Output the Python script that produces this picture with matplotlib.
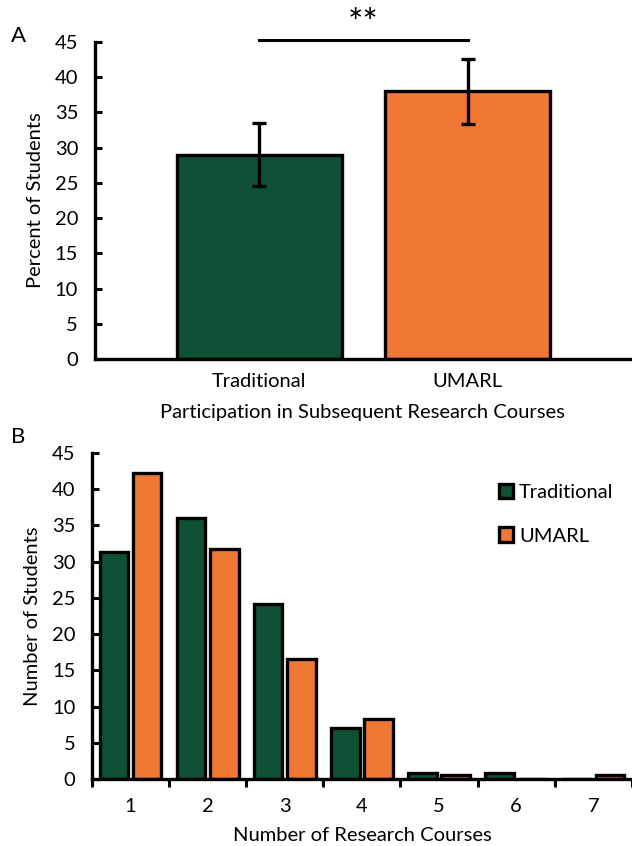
import matplotlib
matplotlib.use("Agg")
import matplotlib.pyplot as plt
import numpy as np

plt.rcParams['font.family'] = ['Lato', 'DejaVu Sans']

# Panel A data
groups = ["Traditional", "UMARL"]
percent = [29.0, 38.0]
percent_err = [4.5, 4.6]

# Panel B data
courses = ["1", "2", "3", "4", "5", "6", "7"]
trad_counts = [31.3, 36.0, 24.2, 7.1, 0.8, 0.8, 0.0]
umarl_counts = [42.3, 31.7, 16.5, 8.3, 0.5, 0.0, 0.5]

green = "#0E5033"
orange = "#F07734"
fs = 14.5

fig = plt.figure(figsize=(6.32, 8.46), dpi=100)

# ---- Panel A ----
axA = fig.add_axes([0.150, 0.5757, 0.847, 0.3747])
xa = np.arange(len(groups))
axA.bar(xa, percent, width=0.79, color=[green, orange], edgecolor="black", linewidth=2.4, zorder=2)
axA.errorbar(xa, percent, yerr=percent_err, fmt="none", ecolor="black", elinewidth=2.4,
             capsize=5, capthick=2.4, zorder=3)
axA.set_xlim(-0.79, 1.78)
axA.set_ylim(0, 45)
axA.set_yticks(np.arange(0, 46, 5))
axA.set_xticks(xa)
axA.set_xticklabels(groups, fontsize=fs)
axA.tick_params(axis="y", direction="in", length=5, width=2.2, labelsize=fs, pad=12)
axA.tick_params(axis="x", length=0, pad=10)
for s in ["top", "right"]:
    axA.spines[s].set_visible(False)
for s in ["left", "bottom"]:
    axA.spines[s].set_linewidth(2.4)
axA.set_ylabel("Percent of Students", fontsize=fs, labelpad=8)
axA.set_xlabel("Participation in Subsequent Research Courses", fontsize=fs, labelpad=10)
axA.plot([0, 1], [45.3, 45.3], color="black", lw=2.2, clip_on=False)
axA.text(0.5, 45.2, "**", ha="center", va="bottom", fontsize=26, clip_on=False)
fig.text(0.018, 0.958, "A", fontsize=16, ha="left", va="center")

# ---- Panel B ----
axB = fig.add_axes([0.1456, 0.0792, 0.854, 0.3853])
xb = np.arange(1, len(courses) + 1)
w = 0.37
axB.bar(xb - 0.215, trad_counts, width=w, color=green, edgecolor="black", linewidth=2.4,
        label="Traditional", zorder=2)
axB.bar(xb + 0.215, umarl_counts, width=w, color=orange, edgecolor="black", linewidth=2.4,
        label="UMARL", zorder=2)
axB.set_xlim(0.5, 7.5)
axB.set_ylim(0, 45)
axB.set_yticks(np.arange(0, 46, 5))
axB.set_xticks(xb)
axB.set_xticklabels(courses, fontsize=fs)
axB.set_xticks(np.arange(0.5, 7.6, 1), minor=True)
axB.tick_params(axis="x", which="major", length=0, pad=14)
axB.tick_params(axis="x", which="minor", direction="out", length=6, width=2.2)
axB.tick_params(axis="y", direction="in", length=5, width=2.2, labelsize=fs, pad=12)
for s in ["top", "right"]:
    axB.spines[s].set_visible(False)
for s in ["left", "bottom"]:
    axB.spines[s].set_linewidth(2.4)
axB.set_ylabel("Number of Students", fontsize=fs, labelpad=8)
axB.set_xlabel("Number of Research Courses", fontsize=fs, labelpad=8)
leg = axB.legend(loc="upper right", bbox_to_anchor=(1.0, 0.96), frameon=False, fontsize=fs,
                 handlelength=0.7, handleheight=0.7, handletextpad=0.3, labelspacing=1.3)
fig.text(0.018, 0.483, "B", fontsize=16, ha="left", va="center")

fig.savefig("out.png", dpi=100)
